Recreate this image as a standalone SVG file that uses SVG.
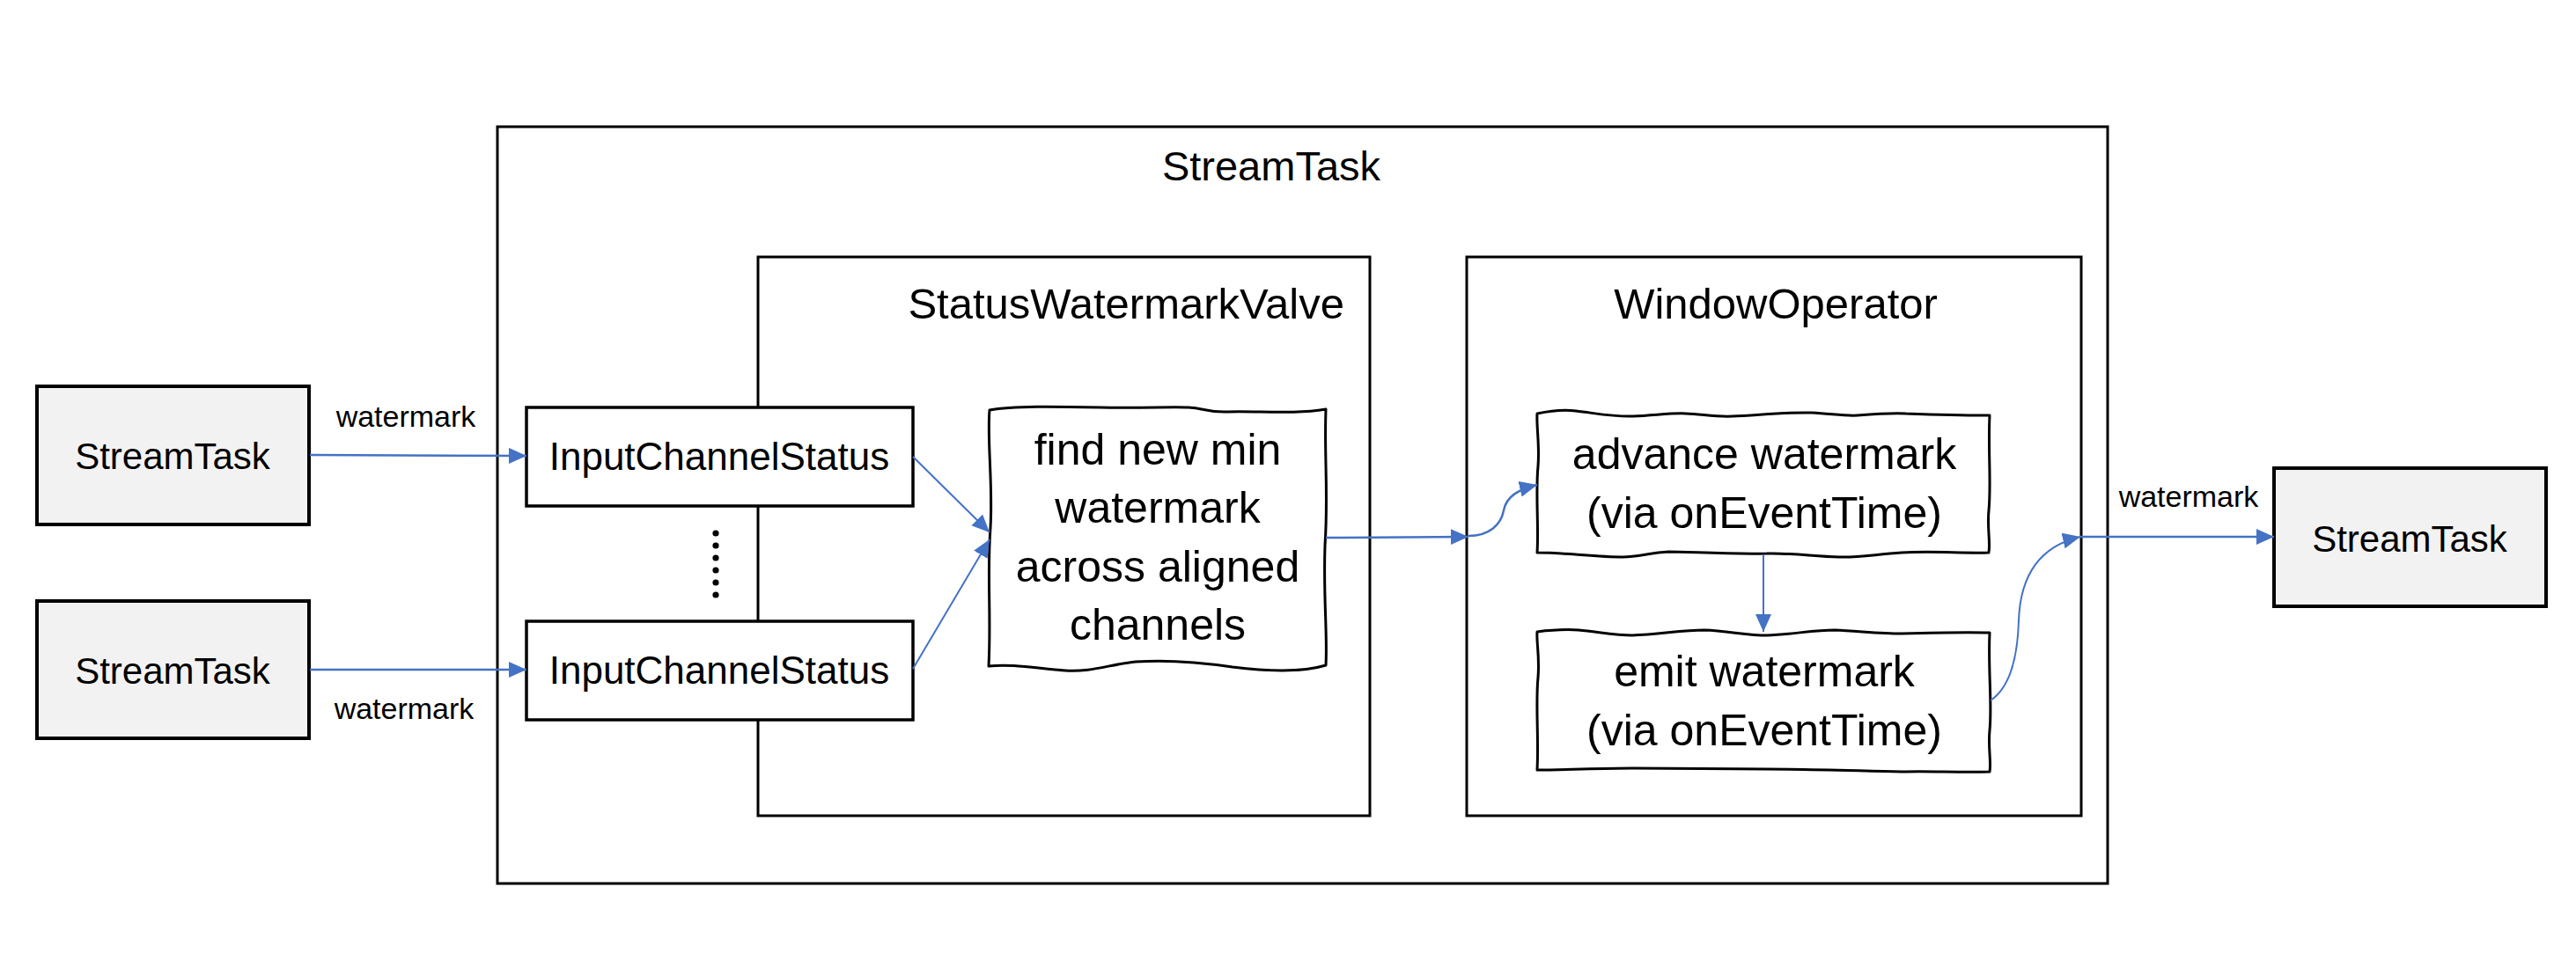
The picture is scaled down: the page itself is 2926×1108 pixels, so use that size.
<svg xmlns="http://www.w3.org/2000/svg" width="2926" height="1108" viewBox="0 0 2926 1108">
  <style>
    .box { fill: #ffffff; stroke: #000000; stroke-width: 3.5; }
    .task { fill: #f2f2f2; stroke: #000000; stroke-width: 4; }
    .container { fill: none; stroke: #000000; stroke-width: 3; }
    .sketch { fill: #ffffff; stroke: #000000; stroke-width: 3; stroke-linejoin: round; }
    .conn { fill: none; stroke: #4472c4; stroke-width: 2.5; }
    .thin { fill: none; stroke: #4472c4; stroke-width: 2; }
    text { font-family: "Liberation Sans", Arial, sans-serif; fill: #000000; text-anchor: middle; }
    .label { font-size: 34px; }
    .title { font-size: 49px; }
    .big { font-size: 50px; }
    .ics { font-size: 44px; }
    .st { font-size: 42px; }
  </style>
  <defs>
    <marker id="arrow" markerUnits="userSpaceOnUse" markerWidth="22" markerHeight="20" refX="20" refY="9" orient="auto">
      <path d="M0,0 L20,9 L0,18 Z" fill="#4472c4"/>
    </marker>
  </defs>
  <rect width="2926" height="1108" fill="#ffffff"/>

  <g id="outer-streamtask">
    <rect class="container" x="565" y="144" width="1829" height="860"/>
    <text class="title" x="1444" y="205" style="font-size:47px">StreamTask</text>
  </g>

  <g id="status-watermark-valve">
    <rect class="container" x="861" y="292" width="695" height="635"/>
    <text class="title" x="1527" y="362" style="text-anchor:end">StatusWatermarkValve</text>
  </g>

  <g id="window-operator">
    <rect class="container" x="1666" y="292" width="698" height="635"/>
    <text class="title" x="2017" y="362">WindowOperator</text>
  </g>

  <g id="streamtask-in-1">
    <rect class="task" x="42" y="439" width="309" height="157"/>
    <text class="st" x="196" y="533">StreamTask</text>
  </g>

  <g id="streamtask-in-2">
    <rect class="task" x="42" y="683" width="309" height="156"/>
    <text class="st" x="196" y="777">StreamTask</text>
  </g>

  <g id="streamtask-out">
    <rect class="task" x="2583" y="532" width="309" height="157"/>
    <text class="st" x="2737" y="627">StreamTask</text>
  </g>

  <g id="input-channel-status-1">
    <rect class="box" x="598" y="463" width="439" height="112"/>
    <text class="ics" x="817" y="534">InputChannelStatus</text>
  </g>

  <g id="input-channel-status-2">
    <rect class="box" x="598" y="706" width="439" height="112"/>
    <text class="ics" x="817" y="777">InputChannelStatus</text>
  </g>

  <g id="ellipsis">
    <circle cx="813" cy="606" r="3.6"/>
    <circle cx="813" cy="620" r="3.6"/>
    <circle cx="813" cy="634" r="3.6"/>
    <circle cx="813" cy="648" r="3.6"/>
    <circle cx="813" cy="662" r="3.6"/>
    <circle cx="813" cy="676" r="3.6"/>
  </g>

  <g id="find-min-watermark">
    <path class="sketch" d="M1124,466 C1150,461 1200,462 1250,463 C1300,464 1330,462 1350,463 C1368,464 1372,469 1395,468 C1430,467 1470,471 1506,465 C1504,520 1509,560 1505,620 C1503,680 1508,720 1506,756 C1480,764 1440,763 1400,758 C1360,752 1320,750 1290,752 C1260,755 1240,764 1210,762 C1180,760 1150,754 1123,757 C1126,700 1121,650 1125,600 C1128,550 1121,500 1124,466 Z"/>
    <text class="big" x="1315" y="528">find new min</text>
    <text class="big" x="1315" y="594">watermark</text>
    <text class="big" x="1315" y="661">across aligned</text>
    <text class="big" x="1315" y="727">channels</text>
  </g>

  <g id="advance-watermark">
    <path class="sketch" d="M1746,470 C1760,467 1775,465 1790,467 C1815,470 1835,474 1855,473 C1880,472 1900,469 1915,470 C1935,471 1950,474 1968,473 C1995,472 2030,468 2058,469 C2080,470 2095,473 2110,472 C2135,470 2150,469 2165,470 C2200,471 2230,472 2260,472 C2258,510 2262,550 2259,580 C2257,600 2261,615 2259,628 C2230,629 2195,626 2160,628 C2130,630 2110,634 2089,633 C2060,632 2030,628 2007,629 C1960,630 1920,627 1895,627 C1875,628 1860,633 1844,633 C1810,633 1780,628 1746,628 C1748,600 1744,560 1747,530 C1749,505 1745,485 1746,470 Z"/>
    <text class="big" x="2004" y="533">advance watermark</text>
    <text class="big" x="2004" y="600">(via onEventTime)</text>
  </g>

  <g id="emit-watermark">
    <path class="sketch" d="M1746,718 C1762,716 1778,715 1793,716 C1815,718 1835,722 1854,722 C1885,721 1910,716 1936,716 C1962,717 1985,722 2007,722 C2035,721 2060,716 2084,716 C2110,717 2135,720 2160,720 C2195,719 2230,718 2260,719 C2258,760 2263,800 2260,830 C2258,850 2262,865 2260,877 C2225,878 2190,876 2160,877 C2110,876 2060,874 2007,874 C1960,874 1900,873 1854,873 C1815,873 1780,875 1746,875 C1748,840 1744,800 1747,770 C1749,745 1745,730 1746,718 Z"/>
    <text class="big" x="2004" y="780">emit watermark</text>
    <text class="big" x="2004" y="847">(via onEventTime)</text>
  </g>

  <g id="connectors">
    <path class="conn" d="M352,517 L598,518" marker-end="url(#arrow)"/>
    <path class="conn" d="M352,761 L598,761" marker-end="url(#arrow)"/>
    <path class="thin" d="M1037,519 L1124,605" marker-end="url(#arrow)"/>
    <path class="thin" d="M1037,760 L1124,613" marker-end="url(#arrow)"/>
    <path class="conn" d="M1506,611 L1668,610" marker-end="url(#arrow)"/>
    <path class="conn" d="M1668,609 C1692,609 1705,596 1708,580 C1711,564 1725,556 1746,551" marker-end="url(#arrow)"/>
    <path class="thin" d="M2003,630 L2003,718" marker-end="url(#arrow)"/>
    <path class="thin" d="M2261,796 C2285,780 2292,740 2293,705 C2295,650 2320,620 2363,610" marker-end="url(#arrow)"/>
    <path class="conn" d="M2363,610 L2583,610" marker-end="url(#arrow)"/>
  </g>

  <g id="labels">
    <text class="label" x="461" y="485">watermark</text>
    <text class="label" x="459" y="817">watermark</text>
    <text class="label" x="2486" y="576">watermark</text>
  </g>
</svg>
